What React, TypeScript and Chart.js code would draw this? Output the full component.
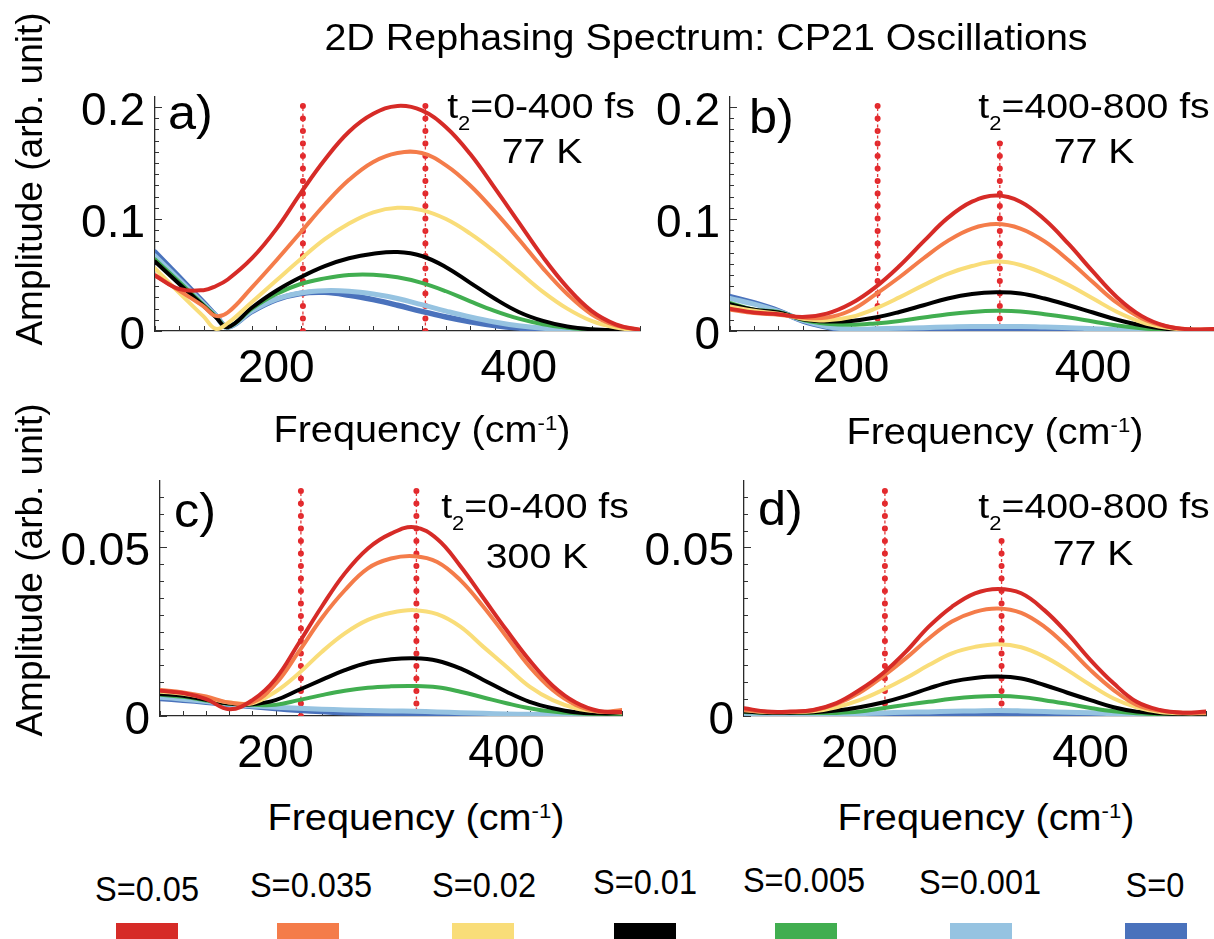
import React, { useEffect, useRef } from 'react';
import { Chart, registerables } from 'chart.js';

Chart.register(...registerables);

const FONT = '"Liberation Sans", Arial, Helvetica, sans-serif';

// ---------- data ----------
const FREQ = [100, 120, 140, 160, 180, 200, 220, 240, 260, 280, 300, 320, 340, 360, 380, 400, 420, 440, 460, 480, 500];
const FREQ_A = [100, 120, 140, 150, 160, 180, 200, 220, 240, 260, 280, 300, 320, 340, 360, 380, 400, 420, 440, 460, 480, 500];
const X_TICKS = [200, 400];
const Y_TICKS_TOP = [0, 0.1, 0.2];
const Y_TICKS_BOTTOM = [0, 0.05];

const SERIES = ['S=0.05', 'S=0.035', 'S=0.02', 'S=0.01', 'S=0.005', 'S=0.001', 'S=0'];
const COLORS = ['#d62b27', '#f47c4a', '#f9dd79', '#000000', '#41ae50', '#96c3e1', '#4a72bc'];
const WIDTHS = [4, 4, 4, 4, 4, 5, 5.5];

// panel a) t2 = 0-400 fs, 77 K
const A_S05 = [0.0495, 0.0375, 0.0365, 0.040, 0.046, 0.065, 0.091, 0.123, 0.153, 0.178, 0.194, 0.201, 0.197, 0.182, 0.158, 0.128, 0.097, 0.066, 0.039, 0.018, 0.006, 0.001];
const A_S035 = [0.050, 0.036, 0.022, 0.0135, 0.0165, 0.039, 0.063, 0.088, 0.113, 0.135, 0.151, 0.159, 0.159, 0.148, 0.130, 0.107, 0.082, 0.056, 0.033, 0.015, 0.005, 0.001];
const A_S02 = [0.056, 0.034, 0.013, 0.002, 0.007, 0.026, 0.045, 0.064, 0.082, 0.096, 0.106, 0.110, 0.108, 0.100, 0.087, 0.071, 0.053, 0.035, 0.020, 0.009, 0.003, 0.0005];
const A_S01 = [0.062, 0.042, 0.0225, 0.0125, 0.0035, 0.021, 0.036, 0.048, 0.058, 0.065, 0.069, 0.0705, 0.067, 0.057, 0.043, 0.029, 0.017, 0.009, 0.004, 0.0015, 0.0005, 0.0002];
const A_S005 = [0.064, 0.0437, 0.0233, 0.0133, 0.0035, 0.020, 0.033, 0.042, 0.047, 0.050, 0.0502, 0.048, 0.043, 0.0355, 0.0265, 0.018, 0.011, 0.006, 0.003, 0.0012, 0.0004, 0.0001];
const A_S001 = [0.067, 0.0457, 0.0243, 0.0137, 0.0035, 0.018, 0.0285, 0.034, 0.036, 0.0355, 0.033, 0.029, 0.0235, 0.0178, 0.0125, 0.008, 0.0046, 0.0024, 0.0011, 0.0004, 0.0001, 0];
const A_S0 = [0.0705, 0.048, 0.0255, 0.014, 0.0035, 0.0175, 0.028, 0.0335, 0.0345, 0.032, 0.028, 0.023, 0.0175, 0.0125, 0.0083, 0.005, 0.0027, 0.0013, 0.0005, 0.0002, 0.0001, 0];

// panel b) t2 = 400-800 fs, 77 K
const B_S05 = [0.020, 0.0165, 0.015, 0.0125, 0.0155, 0.0245, 0.039, 0.058, 0.080, 0.101, 0.1155, 0.121, 0.1155, 0.0995, 0.0775, 0.053, 0.030, 0.0135, 0.0045, 0.0015, 0.0018];
const B_S035 = [0.019, 0.016, 0.0145, 0.012, 0.012, 0.0185, 0.0325, 0.048, 0.065, 0.0805, 0.0915, 0.0955, 0.0915, 0.080, 0.063, 0.0435, 0.025, 0.0115, 0.0042, 0.0015, 0.0015];
const B_S02 = [0.022, 0.018, 0.0155, 0.011, 0.0095, 0.0125, 0.020, 0.030, 0.041, 0.051, 0.058, 0.062, 0.059, 0.051, 0.041, 0.029, 0.017, 0.008, 0.003, 0.001, 0.001];
const B_S01 = [0.024, 0.019, 0.0165, 0.0105, 0.0085, 0.009, 0.012, 0.017, 0.023, 0.029, 0.033, 0.0345, 0.0335, 0.029, 0.023, 0.0165, 0.010, 0.005, 0.002, 0.0008, 0.0008];
const B_S005 = [0.025, 0.019, 0.017, 0.010, 0.0065, 0.0055, 0.0068, 0.009, 0.012, 0.015, 0.017, 0.018, 0.0175, 0.015, 0.012, 0.0085, 0.005, 0.0025, 0.001, 0.0005, 0.0005];
const B_S001 = [0.029, 0.024, 0.0175, 0.0095, 0.004, 0.0015, 0.002, 0.0025, 0.003, 0.0035, 0.004, 0.004, 0.004, 0.0035, 0.003, 0.002, 0.0012, 0.0006, 0.0003, 0.0001, 0.0001];
const B_S0 = [0.0307, 0.025, 0.018, 0.009, 0.0035, 0.0005, 0.0004, 0.0003, 0.0003, 0.0003, 0.0003, 0.0003, 0.0003, 0.0003, 0.0002, 0.0002, 0.0001, 0.0001, 0.0001, 0.0001, 0.0001];

// panel c) t2 = 0-400 fs, 300 K
const C_S05 = [0.0075, 0.0068, 0.005, 0.002, 0.0047, 0.011, 0.0215, 0.0324, 0.0423, 0.0497, 0.0541, 0.056, 0.0525, 0.0445, 0.035, 0.0255, 0.0165, 0.009, 0.004, 0.0015, 0.0012];
const C_S035 = [0.0077, 0.007, 0.0058, 0.004, 0.004, 0.0095, 0.019, 0.029, 0.0373, 0.0438, 0.0467, 0.0474, 0.0457, 0.0403, 0.0324, 0.0235, 0.0146, 0.0077, 0.0033, 0.0013, 0.0018];
const C_S02 = [0.0072, 0.0066, 0.0054, 0.004, 0.0038, 0.0072, 0.0126, 0.019, 0.0245, 0.0285, 0.0306, 0.0314, 0.0302, 0.0265, 0.0205, 0.0146, 0.0087, 0.0047, 0.0023, 0.0013, 0.001];
const C_S01 = [0.0065, 0.006, 0.0048, 0.0037, 0.0035, 0.0047, 0.0077, 0.0107, 0.0136, 0.0158, 0.0168, 0.0171, 0.0164, 0.0141, 0.0107, 0.0072, 0.0042, 0.0023, 0.0011, 0.0008, 0.0008];
const C_S005 = [0.0063, 0.0057, 0.0046, 0.0036, 0.0033, 0.0033, 0.0047, 0.0062, 0.0075, 0.0084, 0.0088, 0.0089, 0.0085, 0.0072, 0.0055, 0.0038, 0.0023, 0.0013, 0.0008, 0.0006, 0.0006];
const C_S001 = [0.0056, 0.005, 0.0043, 0.0035, 0.003, 0.0026, 0.0023, 0.002, 0.0018, 0.0016, 0.0015, 0.0014, 0.0012, 0.001, 0.0008, 0.0006, 0.0005, 0.0004, 0.0003, 0.0003, 0.0003];
const C_S0 = [0.0052, 0.0047, 0.0041, 0.0034, 0.0028, 0.0022, 0.0017, 0.0013, 0.001, 0.0008, 0.0006, 0.0005, 0.0004, 0.0003, 0.0002, 0.0002, 0.0002, 0.0002, 0.0002, 0.0002, 0.0002];

// panel d) t2 = 400-800 fs, 77 K
const D_S05 = [0.0023, 0.0013, 0.0013, 0.0018, 0.0038, 0.0077, 0.0126, 0.019, 0.0265, 0.0324, 0.0364, 0.0377, 0.0364, 0.0314, 0.0245, 0.0166, 0.0097, 0.0042, 0.0018, 0.001, 0.0013];
const D_S035 = [0.0018, 0.0012, 0.0012, 0.0017, 0.0036, 0.0069, 0.0117, 0.0171, 0.023, 0.028, 0.0309, 0.0319, 0.0306, 0.0265, 0.0205, 0.0136, 0.0077, 0.0033, 0.0016, 0.001, 0.001];
const D_S02 = [0.0017, 0.0012, 0.0012, 0.0014, 0.0026, 0.0047, 0.0077, 0.0112, 0.0151, 0.0186, 0.0205, 0.0213, 0.0204, 0.0176, 0.0136, 0.0092, 0.0052, 0.0026, 0.0012, 0.0008, 0.0008];
const D_S01 = [0.0013, 0.001, 0.001, 0.0011, 0.0016, 0.0026, 0.004, 0.0059, 0.0082, 0.0102, 0.0113, 0.0117, 0.0111, 0.0092, 0.0069, 0.0047, 0.0026, 0.0013, 0.0008, 0.0006, 0.0006];
const D_S005 = [0.0012, 0.0009, 0.0009, 0.0009, 0.0009, 0.0013, 0.0023, 0.0033, 0.0042, 0.0051, 0.0057, 0.0059, 0.0056, 0.0047, 0.0036, 0.0024, 0.0014, 0.0008, 0.0005, 0.0004, 0.0004];
const D_S001 = [0.0008, 0.0006, 0.0006, 0.0006, 0.0006, 0.0007, 0.0009, 0.0011, 0.0012, 0.0014, 0.0015, 0.0016, 0.0015, 0.0013, 0.0011, 0.001, 0.0007, 0.0005, 0.0004, 0.0003, 0.0003];
const D_S0 = [0.0008, 0.0005, 0.0004, 0.0003, 0.0003, 0.0003, 0.0003, 0.0003, 0.0003, 0.0003, 0.0003, 0.0003, 0.0003, 0.0003, 0.0003, 0.0003, 0.0003, 0.0003, 0.0003, 0.0003, 0.0003];

// vertical dotted marker lines: frequency, top value, optional end cap
const MARK_A = [{ f: 222, top: 0.2027, cap: false }, { f: 323, top: 0.2027, cap: false }];
const MARK_B = [{ f: 222, top: 0.2027, cap: false }, { f: 323, top: 0.168, cap: true }];
const MARK_C = [{ f: 222, top: 0.0676, cap: false }, { f: 322, top: 0.0676, cap: false }];
const MARK_D = [{ f: 222, top: 0.0673, cap: false }, { f: 323, top: 0.0522, cap: false }];

// ---------- layout constants ----------
const Y_AXIS_W = 110;
const PAD_TOP = 40;
const X_AXIS_H = 80;
const X_MINOR = 20;

type Mark = { f: number; top: number; cap: boolean };
type PanelProps = {
  areaLeft: number; areaTop: number; areaW: number; areaH: number; padRight: number;
  freq: number[]; values: number[][]; yMax: number; yTicks: number[]; yMinor: number;
  marks: Mark[];
};

function Panel(p: PanelProps) {
  const ref = useRef<HTMLCanvasElement | null>(null);
  const left = p.areaLeft - Y_AXIS_W;
  const top = p.areaTop - PAD_TOP;
  const width = Y_AXIS_W + p.areaW + p.padRight;
  const height = PAD_TOP + p.areaH + X_AXIS_H;

  useEffect(() => {
    if (!ref.current) return;
    const datasets: any[] = p.values.map((vals, i) => ({
      label: SERIES[i],
      data: p.freq.map((f, j) => ({ x: f, y: vals[j] })),
      borderColor: COLORS[i],
      backgroundColor: COLORS[i],
      borderWidth: WIDTHS[i],
      pointRadius: 0,
      tension: 0.4,
      fill: false,
      borderCapStyle: 'round',
      borderJoinStyle: 'round',
    }));
    p.marks.forEach((m) => {
      const data = [{ x: m.f, y: 0 }, { x: m.f, y: m.top }];
      datasets.push({ data, borderColor: '#e23a3a', borderWidth: 1.3, borderDash: [3, 2.5], pointRadius: 0, fill: false });
      datasets.push({ data, borderColor: '#e3282c', borderWidth: 6, borderDash: [0, 12.5], borderCapStyle: 'round', pointRadius: 0, fill: false });
      datasets.push({ data, borderColor: '#f6a0a0', borderWidth: 2.2, borderDash: [0, 12.5], borderCapStyle: 'round', pointRadius: 0, fill: false });
      if (m.cap) {
        datasets.push({ data: [{ x: m.f - 2.5, y: m.top }, { x: m.f + 2.5, y: m.top }], borderColor: '#e23a3a', borderWidth: 1.3, pointRadius: 0, fill: false });
      }
    });

    const minorTicks = {
      id: 'minorTicks',
      beforeDatasetsDraw(chart: any) {
        const { ctx, chartArea } = chart;
        const xs = chart.scales.x;
        const ys = chart.scales.y;
        ctx.save();
        ctx.strokeStyle = '#333';
        ctx.lineWidth = 1;
        ctx.beginPath();
        for (let v = xs.min; v <= xs.max + 1e-9; v += X_MINOR) {
          const px = Math.round(xs.getPixelForValue(v)) + 0.5;
          ctx.moveTo(px, chartArea.bottom);
          ctx.lineTo(px, chartArea.bottom - 5);
        }
        for (let i = 0; i * p.yMinor <= ys.max + 1e-12; i++) {
          const v = i * p.yMinor;
          const py = Math.round(ys.getPixelForValue(v)) + 0.5;
          const major = p.yTicks.some((t) => Math.abs(t - v) < 1e-9);
          ctx.moveTo(chartArea.left, py);
          ctx.lineTo(chartArea.left + (major ? 7 : 4), py);
        }
        ctx.stroke();
        ctx.restore();
      },
    };

    const chart = new Chart(ref.current, {
      type: 'line',
      data: { datasets },
      options: {
        responsive: false,
        animation: false,
        devicePixelRatio: 1,
        events: [],
        layout: { padding: { top: PAD_TOP, right: p.padRight, left: 0, bottom: 0 } },
        plugins: { legend: { display: false }, tooltip: { enabled: false }, title: { display: false } },
        scales: {
          x: {
            type: 'linear',
            min: 100,
            max: 500,
            afterBuildTicks: (s: any) => { s.ticks = X_TICKS.map((v) => ({ value: v })); },
            afterFit: (s: any) => { s.height = X_AXIS_H; },
            grid: { display: true, drawOnChartArea: false, drawTicks: false },
            border: { display: true, color: '#2a2a2a', width: 1.3 },
            ticks: {
              font: { family: FONT, size: 46 },
              color: '#000',
              padding: 11,
              maxRotation: 0,
              autoSkip: false,
              callback: (v: any) => String(v),
            },
          },
          y: {
            type: 'linear',
            min: 0,
            max: p.yMax,
            afterBuildTicks: (s: any) => { s.ticks = p.yTicks.map((v) => ({ value: v })); },
            afterFit: (s: any) => { s.width = Y_AXIS_W; },
            grid: { display: true, drawOnChartArea: false, drawTicks: false },
            border: { display: true, color: '#2a2a2a', width: 1.3 },
            ticks: {
              font: { family: FONT, size: 46 },
              color: '#000',
              padding: 10,
              labelOffset: 5,
              autoSkip: false,
              callback: (v: any) => String(v),
            },
          },
        },
      } as any,
      plugins: [minorTicks],
    });
    return () => chart.destroy();
  }, []);

  return (
    <canvas
      ref={ref}
      width={width}
      height={height}
      style={{ position: 'absolute', left, top, width, height }}
    />
  );
}

type TxtProps = {
  x: number; baseline: number; size: number; sx?: number;
  anchor?: 'left' | 'center' | 'right'; children: React.ReactNode;
};

function Txt({ x, baseline, size, sx = 1, anchor = 'center', children }: TxtProps) {
  const top = baseline - 0.8465 * size;
  const tx = anchor === 'center' ? '-50%' : anchor === 'right' ? '-100%' : '0';
  const origin = anchor === 'center' ? 'center' : anchor === 'right' ? 'right' : 'left';
  return (
    <div
      style={{
        position: 'absolute', left: x, top, fontSize: size, lineHeight: `${size}px`,
        whiteSpace: 'nowrap', color: '#000', fontFamily: FONT,
        transform: `translateX(${tx}) scaleX(${sx})`, transformOrigin: `${origin} top`,
      }}
    >
      {children}
    </div>
  );
}

function Sub({ size, children }: { size: number; children: React.ReactNode }) {
  return (
    <span style={{ fontSize: size * 0.56, position: 'relative', top: size * 0.34, lineHeight: 0 }}>{children}</span>
  );
}

function Sup({ size, children }: { size: number; children: React.ReactNode }) {
  return (
    <span style={{ fontSize: size * 0.56, position: 'relative', top: -size * 0.33, lineHeight: 0 }}>{children}</span>
  );
}

function VLabel({ cx, cy, size, children }: { cx: number; cy: number; size: number; children: React.ReactNode }) {
  return (
    <div
      style={{
        position: 'absolute', left: cx, top: cy, fontSize: size, lineHeight: `${size}px`,
        whiteSpace: 'nowrap', fontFamily: FONT, color: '#000',
        transform: 'translate(-50%, -50%) rotate(-90deg)',
      }}
    >
      {children}
    </div>
  );
}

const ANN = 35;
const ANN_SX = 1.12;
const FQ = 36;
const LEG_X = [147, 311, 484, 645, 804, 980, 1155];
const LEG_BASE = [901, 897, 897, 894, 892, 894, 897];
const LEG_RECT_X = [116, 277, 452, 614, 775, 950, 1125];

function Freq({ x, baseline }: { x: number; baseline: number }) {
  return (
    <Txt x={x} baseline={baseline} size={FQ} sx={1.1}>
      Frequency (cm<Sup size={FQ}>-1</Sup>)
    </Txt>
  );
}

export default function App() {
  return (
    <div
      style={{
        position: 'absolute', left: 0, top: 0, width: 1214, height: 939,
        overflow: 'hidden', background: '#fff', fontFamily: FONT,
      }}
    >
      <Panel areaLeft={155} areaTop={97} areaW={485} areaH={234} padRight={10}
        freq={FREQ_A} values={[A_S05, A_S035, A_S02, A_S01, A_S005, A_S001, A_S0]}
        yMax={0.209} yTicks={Y_TICKS_TOP} yMinor={0.01} marks={MARK_A} />
      <Panel areaLeft={730} areaTop={97} areaW={484} areaH={234} padRight={0}
        freq={FREQ} values={[B_S05, B_S035, B_S02, B_S01, B_S005, B_S001, B_S0]}
        yMax={0.209} yTicks={Y_TICKS_TOP} yMinor={0.01} marks={MARK_B} />
      <Panel areaLeft={160} areaTop={481} areaW={462} areaH={235} padRight={10}
        freq={FREQ} values={[C_S05, C_S035, C_S02, C_S01, C_S005, C_S001, C_S0]}
        yMax={0.0697} yTicks={Y_TICKS_BOTTOM} yMinor={0.005} marks={MARK_C} />
      <Panel areaLeft={744} areaTop={481} areaW={462} areaH={235} padRight={8}
        freq={FREQ} values={[D_S05, D_S035, D_S02, D_S01, D_S005, D_S001, D_S0]}
        yMax={0.0697} yTicks={Y_TICKS_BOTTOM} yMinor={0.005} marks={MARK_D} />

      <Txt x={706} baseline={50} size={36} sx={1.096}>2D Rephasing Spectrum: CP21 Oscillations</Txt>

      <Txt x={168} baseline={130} size={48} sx={1.05} anchor="left">a)</Txt>
      <Txt x={749} baseline={134} size={48} sx={1.05} anchor="left">b)</Txt>
      <Txt x={174} baseline={528} size={48} sx={1.05} anchor="left">c)</Txt>
      <Txt x={758} baseline={526} size={48} sx={1.05} anchor="left">d)</Txt>

      <Txt x={541} baseline={118} size={ANN} sx={ANN_SX}>t<Sub size={ANN}>2</Sub>=0-400 fs</Txt>
      <Txt x={542} baseline={163} size={ANN} sx={ANN_SX}>77 K</Txt>
      <Txt x={1094} baseline={118} size={ANN} sx={ANN_SX}>t<Sub size={ANN}>2</Sub>=400-800 fs</Txt>
      <Txt x={1094} baseline={163} size={ANN} sx={ANN_SX}>77 K</Txt>
      <Txt x={535} baseline={518} size={ANN} sx={ANN_SX}>t<Sub size={ANN}>2</Sub>=0-400 fs</Txt>
      <Txt x={537} baseline={568} size={ANN} sx={ANN_SX}>300 K</Txt>
      <Txt x={1094} baseline={518} size={ANN} sx={ANN_SX}>t<Sub size={ANN}>2</Sub>=400-800 fs</Txt>
      <Txt x={1093} baseline={565} size={ANN} sx={ANN_SX}>77 K</Txt>

      <Freq x={422} baseline={442} />
      <Freq x={995} baseline={444} />
      <Freq x={416} baseline={830} />
      <Freq x={986} baseline={830} />

      <VLabel cx={29} cy={179} size={37}>Amplitude (arb. unit)</VLabel>
      <VLabel cx={29} cy={570} size={37}>Amplitude (arb. unit)</VLabel>

      {SERIES.map((s, i) => (
        <Txt key={s} x={LEG_X[i]} baseline={LEG_BASE[i]} size={35} sx={0.93}>{s}</Txt>
      ))}
      {SERIES.map((s, i) => (
        <div key={'r' + s} style={{ position: 'absolute', left: LEG_RECT_X[i], top: 923, width: 62, height: 20, background: COLORS[i] }} />
      ))}
    </div>
  );
}
